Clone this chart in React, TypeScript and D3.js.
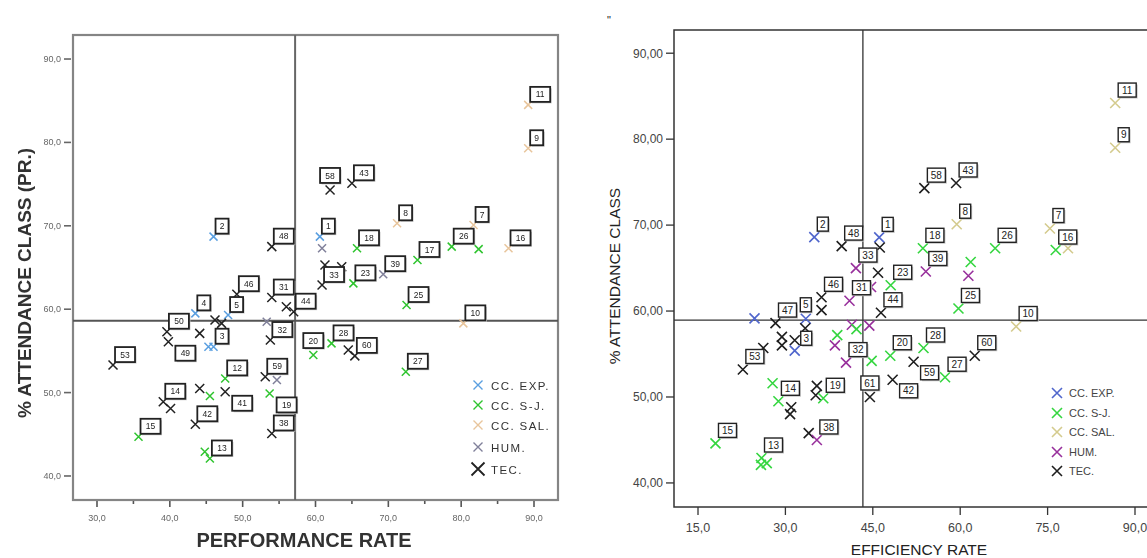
import React from "react";
import * as d3 from "d3";

// ---------- shared categories ----------
const groupNames = ["CC. EXP.", "CC. S-J.", "CC. SAL.", "HUM.", "TEC."];
const groupKeys = ["E", "S", "A", "H", "T"];

// ---------- Chart I : performance rate vs % attendance (PR.) ----------
const leftPerformance = [
  89.2, 89.2, 62.0, 65.0, 71.2, 81.7, 86.5, 82.4, 78.7, 74.0,
  65.7, 60.6, 60.9, 69.3, 65.2, 61.3, 63.6, 60.9, 72.5, 80.3,
  62.2, 59.7, 64.5, 65.4, 72.4, 46.0, 54.0, 49.2, 48.0, 43.5,
  46.2, 47.1, 54.0, 56.0, 57.0, 53.3, 53.8, 39.6, 39.8, 44.1,
  45.3, 46.0, 32.2, 47.6, 44.1, 45.5, 47.6, 39.1, 40.1, 43.5,
  35.7, 44.8, 45.5, 53.1, 54.7, 53.7, 54.0,
];
const leftAttendance = [
  84.5, 79.3, 74.3, 75.1, 70.3, 70.1, 67.3, 67.2, 67.5, 65.9,
  67.3, 68.7, 67.3, 64.2, 63.1, 65.3, 65.1, 62.9, 60.5, 58.3,
  55.9, 54.5, 55.1, 54.4, 52.5, 68.7, 67.5, 61.8, 59.3, 59.5,
  58.7, 58.3, 61.4, 60.3, 59.7, 58.5, 56.3, 57.3, 56.1, 57.1,
  55.5, 55.5, 53.3, 51.7, 50.5, 49.6, 50.1, 48.9, 48.1, 46.2,
  44.7, 42.9, 42.1, 51.9, 51.5, 49.9, 45.1,
];
const leftGroup = [
  "A", "A", "T", "T", "A", "A", "A", "S", "S", "S",
  "S", "E", "H", "H", "S", "T", "T", "T", "S", "A",
  "S", "S", "T", "T", "S", "E", "T", "T", "E", "E",
  "T", "T", "T", "T", "T", "H", "T", "T", "T", "T",
  "E", "E", "T", "S", "T", "S", "T", "T", "T", "T",
  "S", "S", "S", "T", "H", "S", "T",
];
const leftCase = [
  "11", "9", "58", "43", "8", "7", "16", "", "26", "17",
  "18", "1", "", "39", "23", "", "", "33", "25", "10",
  "28", "20", "", "60", "27", "2", "48", "46", "5", "4",
  "", "", "31", "", "44", "", "32", "50", "49", "",
  "", "3", "53", "12", "", "", "41", "14", "", "42",
  "15", "", "13", "59", "", "19", "38",
];
const leftXTicks = [30, 40, 50, 60, 70, 80, 90];
const leftXMinorTicks = [35, 45, 55, 65, 75, 85];
const leftYTicks = [40, 50, 60, 70, 80, 90];
const leftMeanPerformance = 57.2;
const leftMeanAttendance = 58.6;

// ---------- Chart II : efficiency rate vs % attendance ----------
const rightEfficiency = [
  34.96, 39.66, 46.1, 46.2, 42.1, 45.9, 48.07, 36.2, 41.0, 44.7,
  36.2, 46.4, 24.7, 28.3, 33.5, 33.4, 41.4, 42.2, 44.4, 29.4,
  29.4, 31.6, 31.6, 38.9, 38.5, 40.4, 44.8, 48.0, 52.0, 26.2,
  22.7, 27.8, 28.8, 31.0, 30.8, 35.4, 35.2, 36.5, 34.0, 35.4,
  18.0, 25.9, 25.8, 26.8, 54.1, 61.4, 59.7, 69.6, 53.7, 57.4,
  62.5, 48.4, 44.5, 59.4, 53.6, 61.8, 66.0, 75.4, 76.4, 78.5,
  86.6, 86.6, 53.85, 59.3,
];
const rightAttendance = [
  68.6, 67.56, 68.57, 67.4, 65.0, 64.45, 63.0, 61.6, 61.2, 62.8,
  60.1, 59.8, 59.15, 58.6, 59.1, 58.0, 58.4, 57.9, 58.3, 57.0,
  56.0, 56.6, 55.4, 57.2, 56.0, 54.0, 54.2, 54.8, 54.1, 55.7,
  53.2, 51.6, 49.5, 48.8, 48.0, 51.3, 50.2, 49.85, 45.8, 45.0,
  44.6, 42.9, 42.1, 42.3, 64.6, 64.1, 60.3, 58.2, 55.7, 52.3,
  54.8, 52.0, 50.0, 70.1, 67.3, 65.7, 67.3, 69.6, 67.1, 67.3,
  84.2, 79.0, 74.3, 74.9,
];
const rightGroup = [
  "E", "T", "E", "T", "H", "T", "S", "T", "H", "H",
  "T", "T", "E", "T", "E", "T", "H", "S", "H", "T",
  "T", "T", "E", "S", "H", "H", "S", "S", "T", "T",
  "T", "S", "S", "T", "T", "T", "T", "S", "T", "H",
  "S", "S", "S", "S", "H", "H", "S", "A", "S", "S",
  "T", "T", "T", "A", "S", "S", "S", "A", "S", "A",
  "A", "A", "T", "T",
];
const rightCase = [
  "2", "48", "1", "", "33", "", "23", "46", "31", "",
  "", "44", "", "47", "5", "", "", "", "", "",
  "", "3", "", "", "", "32", "", "20", "59", "",
  "53", "", "14", "", "", "", "", "19", "", "38",
  "15", "13", "", "", "39", "", "25", "10", "28", "27",
  "60", "42", "61", "8", "18", "", "26", "7", "16", "",
  "11", "9", "58", "43",
];
const rightXTicks = [15, 30, 45, 60, 75, 90];
const rightYTicks = [40, 50, 60, 70, 80, 90];
const rightMeanEfficiency = 43.3;
const rightMeanAttendance = 58.95;

// ---------- styles ----------
const leftColors: Record<string, string> = {
  E: "#5a9fe0", S: "#2fc42f", A: "#e8c59c", H: "#80809a", T: "#222222",
};
const rightColors: Record<string, string> = {
  E: "#5066cc", S: "#35d640", A: "#d4cb8e", H: "#98309c", T: "#1e1e1e",
};
// label box placement hints (u = above, r = right, lr = lower right, default upper right)
const leftPlacement: Record<string, string> = { "58": "u", "20": "u", "49": "lr", "41": "lr", "19": "lr" };
const rightPlacement: Record<string, string> = { "5": "u", "3": "r", "59": "lr", "42": "lr", "61": "u" };

const FONT = "'Liberation Sans', Arial, Helvetica, sans-serif";
const commaFmt = (f: string) => (v: number) => d3.format(f)(v).replace(".", ",");

function Cross({ x, y, r, color, sw }: { x: number; y: number; r: number; color: string; sw: number }) {
  return (
    <path
      d={`M${x - r},${y - r}L${x + r},${y + r}M${x - r},${y + r}L${x + r},${y - r}`}
      stroke={color}
      strokeWidth={sw}
      fill="none"
    />
  );
}

function CaseLabel({
  px, py, text, place, one, two, h, dx, dy, fontSize, sw,
}: {
  px: number; py: number; text: string; place?: string; one: number; two: number; h: number;
  dx: number; dy: number; fontSize: number; sw: number;
}) {
  const w = text.length === 1 ? one : two;
  let bx = px + dx;
  let by = py - dy - h;
  if (place === "u") { bx = px - w / 2; by = py - 7 - h; }
  else if (place === "r") { bx = px + 6; by = py - h / 2 - 2; }
  else if (place === "lr") { bx = px + 7; by = py + 4; }
  return (
    <g>
      <rect x={bx + 1.5} y={by + 1.5} width={w} height={h} fill="#c8c8c8" />
      <rect x={bx} y={by} width={w} height={h} fill="#fff" stroke="#222" strokeWidth={sw} />
      <text
        x={bx + w / 2}
        y={by + h / 2 + fontSize * 0.36}
        textAnchor="middle"
        fontSize={fontSize}
        fontFamily={FONT}
        fill="#222"
      >
        {text}
      </text>
    </g>
  );
}

export default function App() {
  // Chart I scales
  const lx = d3.scaleLinear().domain([26.705, 93.295]).range([73, 558]);
  const ly = d3.scaleLinear().domain([37.12, 92.88]).range([500, 35]);
  // Chart II scales
  const rx = d3.scaleLinear().domain([10.88, 94.12]).range([674, 1159]);
  const ry = d3.scaleLinear().domain([37.2, 92.7]).range([507, 30]);

  const fL = commaFmt(".1f");
  const fRy = commaFmt(".2f");
  const fRx = commaFmt(".1f");

  const [lx0, lx1] = lx.range();
  const [ly0, ly1] = ly.range();
  const [rx0, rx1] = rx.range();
  const [ry0, ry1] = ry.range();

  const leftLegendY = [385, 405, 425, 447, 469];
  const rightLegendY = [393, 413, 432, 452, 471];

  return (
    <svg
      width={1147}
      height={558}
      style={{ position: "absolute", left: 0, top: 0, background: "#fff" }}
      fontFamily={FONT}
    >
      <defs>
        <filter id="soft" x="-5%" y="-5%" width="110%" height="110%">
          <feGaussianBlur stdDeviation="0.55" />
        </filter>
        <clipPath id="clipRight">
          <rect x={0} y={0} width={1147} height={558} />
        </clipPath>
      </defs>
      <rect x={0} y={0} width={1147} height={558} fill="#fff" />

      {/* ================= Chart I ================= */}
      <g filter="url(#soft)">
        <rect x={lx0} y={ly1} width={lx1 - lx0} height={ly0 - ly1} fill="#fff" stroke="#858585" strokeWidth={2.2} />
        {/* y ticks */}
        {leftYTicks.map((t) => (
          <g key={"ly" + t}>
            <line x1={lx0 - 9} x2={lx0 - 2} y1={ly(t)} y2={ly(t)} stroke="#666" strokeWidth={1.6} />
            <text x={lx0 - 12} y={ly(t) + 3} textAnchor="end" fontSize={9} fill="#666">{fL(t)}</text>
          </g>
        ))}
        {/* x ticks */}
        {leftXTicks.map((t) => (
          <g key={"lx" + t}>
            <line x1={lx(t)} x2={lx(t)} y1={ly0 + 1} y2={ly0 + 7} stroke="#555" strokeWidth={1.6} />
            <text x={lx(t)} y={ly0 + 21} textAnchor="middle" fontSize={9} fill="#666">{fL(t)}</text>
          </g>
        ))}
        {leftXMinorTicks.map((t) => (
          <line key={"lxm" + t} x1={lx(t)} x2={lx(t)} y1={ly0 + 1} y2={ly0 + 4} stroke="#555" strokeWidth={1.6} />
        ))}
        {/* mean reference lines */}
        <line x1={lx(leftMeanPerformance)} x2={lx(leftMeanPerformance)} y1={ly1} y2={ly0} stroke="#666" strokeWidth={2} />
        <line x1={lx0} x2={lx1} y1={ly(leftMeanAttendance)} y2={ly(leftMeanAttendance)} stroke="#555" strokeWidth={2} />
        {/* points */}
        {leftPerformance.map((v, i) => (
          <Cross
            key={"lp" + i}
            x={lx(v)}
            y={ly(leftAttendance[i])}
            r={leftGroup[i] === "T" ? 4.5 : 4}
            color={leftColors[leftGroup[i]]}
            sw={1.5}
          />
        ))}
        {leftPerformance.map((v, i) =>
          leftCase[i] ? (
            <CaseLabel
              key={"ll" + i}
              px={lx(v)}
              py={ly(leftAttendance[i])}
              text={leftCase[i]}
              place={leftPlacement[leftCase[i]]}
              one={13}
              two={20}
              h={15}
              dx={2}
              dy={3}
              fontSize={8.5}
              sw={1.8}
            />
          ) : null
        )}
        {/* legend */}
        {groupKeys.map((k, i) => (
          <g key={"lleg" + k}>
            <Cross x={478} y={leftLegendY[i]} r={k === "T" ? 6.5 : 4.5} color={leftColors[k]} sw={k === "T" ? 1.8 : 1.4} />
            <text x={491} y={leftLegendY[i] + 4.5} fontSize={11.5} letterSpacing={1.4} fill="#333">{groupNames[i]}</text>
          </g>
        ))}
        {/* axis titles */}
        <text x={304} y={547} textAnchor="middle" fontSize={20} fontWeight="bold" fill="#333">PERFORMANCE RATE</text>
        <text transform="translate(31,283) rotate(-90)" textAnchor="middle" fontSize={19} fontWeight="bold" fill="#333">
          % ATTENDANCE  CLASS (PR.)
        </text>
      </g>

      {/* ================= Chart II ================= */}
      <g clipPath="url(#clipRight)">
        <text x={607} y={24} fontSize={11} fill="#222">"</text>
        <rect x={rx0} y={ry1} width={rx1 - rx0} height={ry0 - ry1} fill="none" stroke="#333" strokeWidth={1.5} />
        {rightYTicks.map((t) => (
          <g key={"ry" + t}>
            <line x1={rx0 - 8} x2={rx0} y1={ry(t)} y2={ry(t)} stroke="#333" strokeWidth={1.3} />
            <text x={rx0 - 11} y={ry(t) + 4.3} textAnchor="end" fontSize={12} fill="#444">{fRy(t)}</text>
          </g>
        ))}
        {rightXTicks.map((t) => (
          <g key={"rx" + t}>
            <line x1={rx(t)} x2={rx(t)} y1={ry0} y2={ry0 + 8} stroke="#333" strokeWidth={1.3} />
            <text x={rx(t)} y={ry0 + 25} textAnchor="middle" fontSize={12.5} fill="#444">{fRx(t)}</text>
          </g>
        ))}
        <line x1={rx(rightMeanEfficiency)} x2={rx(rightMeanEfficiency)} y1={ry1} y2={ry0} stroke="#333" strokeWidth={1.3} />
        <line x1={rx0} x2={rx1} y1={ry(rightMeanAttendance)} y2={ry(rightMeanAttendance)} stroke="#333" strokeWidth={1.3} />
        {rightEfficiency.map((v, i) => (
          <Cross
            key={"rp" + i}
            x={rx(v)}
            y={ry(rightAttendance[i])}
            r={5}
            color={rightColors[rightGroup[i]]}
            sw={1.6}
          />
        ))}
        {rightEfficiency.map((v, i) =>
          rightCase[i] ? (
            <CaseLabel
              key={"rl" + i}
              px={rx(v)}
              py={ry(rightAttendance[i])}
              text={rightCase[i]}
              place={rightPlacement[rightCase[i]]}
              one={11}
              two={18}
              h={14}
              dx={3}
              dy={6}
              fontSize={10}
              sw={1.4}
            />
          ) : null
        )}
        {groupKeys.map((k, i) => (
          <g key={"rleg" + k}>
            <Cross x={1057} y={rightLegendY[i]} r={5} color={rightColors[k]} sw={1.6} />
            <text x={1069} y={rightLegendY[i] + 4} fontSize={11} fill="#444">{groupNames[i]}</text>
          </g>
        ))}
        <text x={919} y={555} textAnchor="middle" fontSize={15.5} fill="#222">EFFICIENCY RATE</text>
        <text transform="translate(620,276) rotate(-90)" textAnchor="middle" fontSize={15.5} fill="#222">
          % ATTENDANCE CLASS
        </text>
      </g>
    </svg>
  );
}
